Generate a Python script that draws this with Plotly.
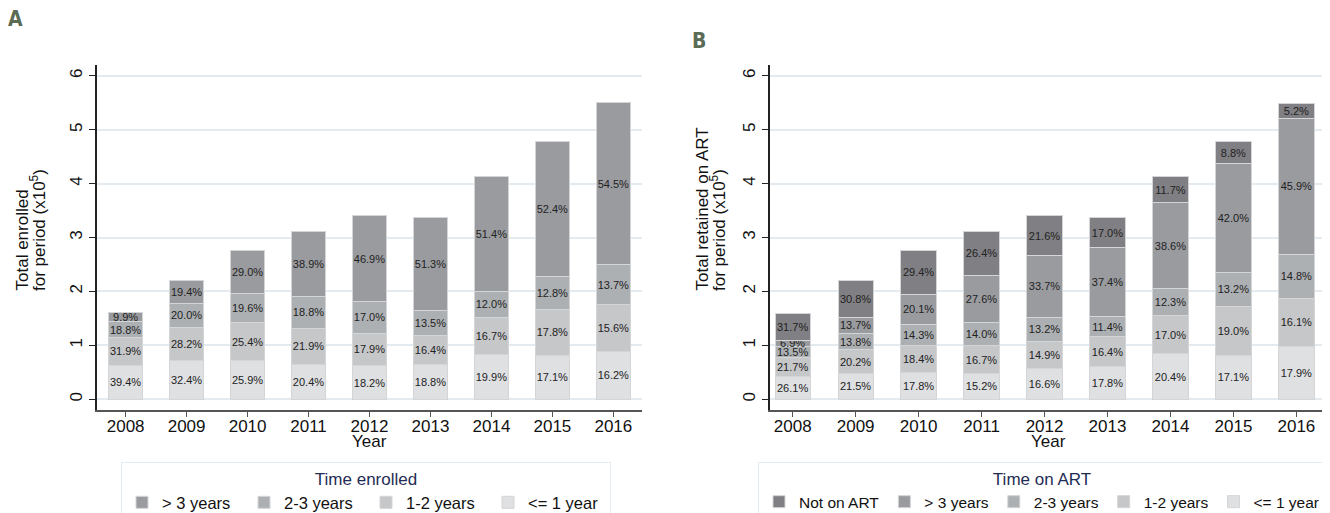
import plotly.graph_objects as go

years = [2008, 2009, 2010, 2011, 2012, 2013, 2014, 2015, 2016]
# total per year (x10^5), same for both panels
totals = [1.60, 2.20, 2.76, 3.12, 3.40, 3.38, 4.13, 4.78, 5.50]

# Panel A: time enrolled (percent of total)
a_le1 = [39.4, 32.4, 25.9, 20.4, 18.2, 18.8, 19.9, 17.1, 16.2]
a_1_2 = [31.9, 28.2, 25.4, 21.9, 17.9, 16.4, 16.7, 17.8, 15.6]
a_2_3 = [18.8, 20.0, 19.6, 18.8, 17.0, 13.5, 12.0, 12.8, 13.7]
a_gt3 = [9.9, 19.4, 29.0, 38.9, 46.9, 51.3, 51.4, 52.4, 54.5]

# Panel B: time on ART (percent of total)
b_le1 = [26.1, 21.5, 17.8, 15.2, 16.6, 17.8, 20.4, 17.1, 17.9]
b_1_2 = [21.7, 20.2, 18.4, 16.7, 14.9, 16.4, 17.0, 19.0, 16.1]
b_2_3 = [13.5, 13.8, 14.3, 14.0, 13.2, 11.4, 12.3, 13.2, 14.8]
b_gt3 = [6.9, 13.7, 20.1, 27.6, 33.7, 37.4, 38.6, 42.0, 45.9]
b_not = [31.7, 30.8, 29.4, 26.4, 21.6, 17.0, 11.7, 8.8, 5.2]

c_le1 = "#dfe0e2"
c_1_2 = "#c6c7c9"
c_2_3 = "#adb0b3"
c_gt3 = "#9a9b9f"
c_not = "#807f84"

FONT = "Liberation Sans, Arial, sans-serif"
NARROW = "Liberation Sans Narrow, DejaVu Sans Condensed, sans-serif"

# page body has an 8px margin: figure sits at (8, 8) in the window
OFF = 8
W, H = 1330 - OFF, 513 - OFF


def px(x):  # page x pixel -> paper fraction
    return (x - OFF) / W


def py(y):  # page y pixel -> paper fraction
    return 1 - (y - OFF) / H


fig = go.Figure()


def add_series(pcts, name, color, xaxis, yaxis, legend):
    fig.add_trace(go.Bar(
        x=years,
        y=[t * p / 100 for t, p in zip(totals, pcts)],
        text=[f"{p:.1f}%" for p in pcts],
        textposition="inside",
        insidetextanchor="middle",
        textangle=0,
        textfont=dict(size=11, color="#222222", family=FONT),
        name=name,
        marker=dict(color=color, line=dict(color="#d4d5d7", width=1)),
        width=0.56,
        xaxis=xaxis, yaxis=yaxis, legend=legend,
        hoverinfo="skip",
    ))


add_series(a_le1, "<= 1 year", c_le1, "x", "y", "legend")
add_series(a_1_2, "1-2 years", c_1_2, "x", "y", "legend")
add_series(a_2_3, "2-3 years", c_2_3, "x", "y", "legend")
add_series(a_gt3, "> 3 years", c_gt3, "x", "y", "legend")

add_series(b_le1, "<= 1 year", c_le1, "x2", "y2", "legend2")
add_series(b_1_2, "1-2 years", c_1_2, "x2", "y2", "legend2")
add_series(b_2_3, "2-3 years", c_2_3, "x2", "y2", "legend2")
add_series(b_gt3, "> 3 years", c_gt3, "x2", "y2", "legend2")
add_series(b_not, "Not on ART", c_not, "x2", "y2", "legend2")

ydom = [py(410), py(65)]
xax = dict(
    tickmode="array", tickvals=years, ticktext=[str(y) for y in years],
    showline=True, linecolor="#555555", linewidth=1.5,
    ticks="outside", ticklen=5, tickcolor="#555555",
    ticklabelstandoff=-5,
    showgrid=False, zeroline=False,
    tickfont=dict(size=17, color="#111111", family=FONT),
)
yax = dict(
    range=[-0.2, 6.2], tickvals=[0, 1, 2, 3, 4, 5, 6],
    showline=True, linecolor="#222222", linewidth=1.5,
    ticks="outside", ticklen=6, tickcolor="#222222",
    showgrid=True, gridcolor="#e4ebf0", gridwidth=1.5, zeroline=False,
    tickangle=-90,
    tickfont=dict(size=17, color="#111111", family=FONT),
    domain=ydom,
)


def legend_cfg(title, x, size, ew):
    return dict(
        orientation="h", x=x, y=py(462), xanchor="left", yanchor="top",
        title=dict(text=title, side="top center",
                   font=dict(size=17, color="#1f2d55", family=FONT)),
        traceorder="reversed", bordercolor="#e4ebf0", borderwidth=1,
        bgcolor="white", font=dict(size=size, color="#111111", family=FONT),
        entrywidth=ew, entrywidthmode="pixels",
    )


def txt(text, x, y, size=17, angle=0, xa="center", ya="middle", color="#111111", fam=FONT):
    return dict(text=text, x=x, y=y, xref="paper", yref="paper",
                xanchor=xa, yanchor=ya, showarrow=False, textangle=angle,
                font=dict(size=size, color=color, family=fam))


fig.update_layout(
    width=W, height=H,
    margin=dict(l=0, r=0, t=0, b=0, autoexpand=False),
    paper_bgcolor="white", plot_bgcolor="white",
    barmode="stack",
    showlegend=True,
    uniformtext=dict(minsize=11, mode="show"),
    font=dict(family=FONT, color="#111111"),
    xaxis=dict(xax, domain=[px(97), px(642)], range=[2007.53, 2016.47], anchor="y"),
    yaxis=dict(yax, anchor="x"),
    xaxis2=dict(xax, domain=[px(770), px(1326)], range=[2007.64, 2016.47], anchor="y2"),
    yaxis2=dict(yax, anchor="x2"),
    legend=legend_cfg("Time enrolled", px(121), 16.5, 77),
    legend2=legend_cfg("Time on ART", px(758), 15.5, 0),
    annotations=[
        txt("Year", (px(97) + px(642)) / 2, py(441)),
        txt("Year", (px(770) + px(1326)) / 2, py(441)),
        txt("Total enrolled", px(22), py(293), angle=-90, ya="bottom"),
        txt("for period (x10<sup>5</sup>)", px(38), py(293), angle=-90, ya="bottom"),
        txt("Total retained on ART", px(702), py(293), angle=-90, ya="bottom"),
        txt("for period (x10<sup>5</sup>)", px(718), py(293), angle=-90, ya="bottom"),
        txt("<b>A</b>", px(6), py(18.5), size=21, xa="left", color="#5b6b55", fam=NARROW),
        txt("<b>B</b>", px(690), py(40.5), size=21, xa="left", color="#5b6b55", fam=NARROW),
    ],
)

fig.write_html("out.html")
